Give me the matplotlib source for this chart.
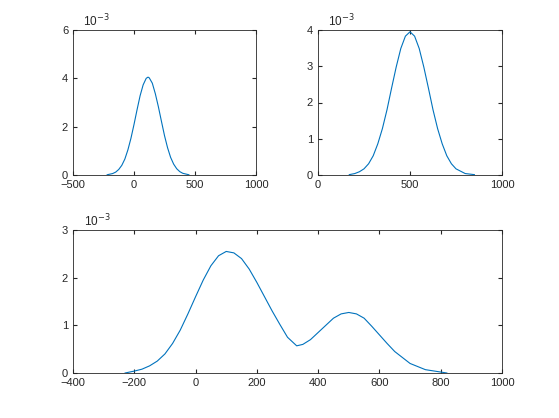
import numpy as np
import matplotlib
matplotlib.use("Agg")
import matplotlib.pyplot as plt

plt.rcParams['font.family'] = ['Liberation Sans', 'DejaVu Sans']
plt.rcParams['font.size'] = 8

x1 = [-220, -175, -150, -125, -100, -75, -50, -25, 0, 25, 50, 75, 100, 115, 125, 150, 175, 200, 225, 250, 275, 300, 325, 350, 375, 400, 450]
y1 = [0.01, 0.06, 0.12, 0.23, 0.40, 0.66, 1.04, 1.52, 2.09, 2.70, 3.28, 3.73, 4.0, 4.05, 4.02, 3.8, 3.36, 2.82, 2.22, 1.63, 1.13, 0.73, 0.45, 0.26, 0.14, 0.07, 0.01]
x2 = [170, 200, 225, 250, 275, 300, 325, 350, 375, 400, 425, 450, 475, 500, 525, 550, 575, 600, 625, 650, 675, 700, 725, 750, 800, 850]
y2 = [0.01, 0.04, 0.09, 0.17, 0.31, 0.53, 0.86, 1.28, 1.80, 2.4, 2.98, 3.49, 3.83, 3.95, 3.83, 3.49, 2.98, 2.4, 1.80, 1.28, 0.86, 0.53, 0.31, 0.17, 0.04, 0.01]
x3 = [-230, -200, -175, -150, -125, -100, -75, -50, -25, 0, 25, 50, 75, 100, 125, 150, 175, 200, 225, 250, 275, 300, 330, 350, 375, 400, 425, 450, 475, 500, 525, 550, 575, 600, 625, 650, 700, 750, 800, 820]
y3 = [0.0, 0.04, 0.08, 0.15, 0.25, 0.4, 0.62, 0.9, 1.24, 1.6, 1.95, 2.25, 2.46, 2.55, 2.52, 2.4, 2.18, 1.9, 1.6, 1.3, 1.02, 0.75, 0.57, 0.6, 0.7, 0.85, 1.0, 1.15, 1.24, 1.27, 1.24, 1.15, 0.98, 0.8, 0.62, 0.45, 0.2, 0.07, 0.02, 0.0]

W, H = 559, 418
fig = plt.figure(figsize=(W/100, H/100), dpi=100)
c = '#0072BD'

def mk(l, t, r, b):
    return fig.add_axes([l/W, 1-b/H, (r-l)/W, (b-t)/H])

def style(ax):
    ax.tick_params(direction='in', length=3, top=True, right=True, labeltop=False, labelright=False, colors='#262626', labelsize=8)
    for s in ax.spines.values():
        s.set_color('#262626'); s.set_linewidth(0.6)
    ax.text(0.055, 1.005, r'10$^{-3}$', transform=ax.transAxes, va='bottom', ha='left', color='#262626', fontsize=8.5)

ax = mk(73, 30, 256, 175)
ax.plot(x1, y1, color=c, lw=0.8)
ax.set_xlim(-500, 1000); ax.set_ylim(0, 6)
ax.set_xticks([-500, 0, 500, 1000]); ax.set_yticks([0, 2, 4, 6])
style(ax)

ax = mk(318, 30, 502, 175)
ax.plot(x2, y2, color=c, lw=0.8)
ax.set_xlim(0, 1000); ax.set_ylim(0, 4)
ax.set_xticks([0, 500, 1000]); ax.set_yticks([0, 1, 2, 3, 4])
style(ax)

ax = mk(73, 230, 502, 373)
ax.plot(x3, y3, color=c, lw=0.8)
ax.set_xlim(-400, 1000); ax.set_ylim(0, 3)
ax.set_xticks(range(-400, 1001, 200)); ax.set_yticks([0, 1, 2, 3])
ax.texts[0].set_position((0.025, 1.005)) if ax.texts else None
style(ax)
ax.texts[0].set_position((0.025, 1.005))

fig.savefig('out.png', dpi=100)
